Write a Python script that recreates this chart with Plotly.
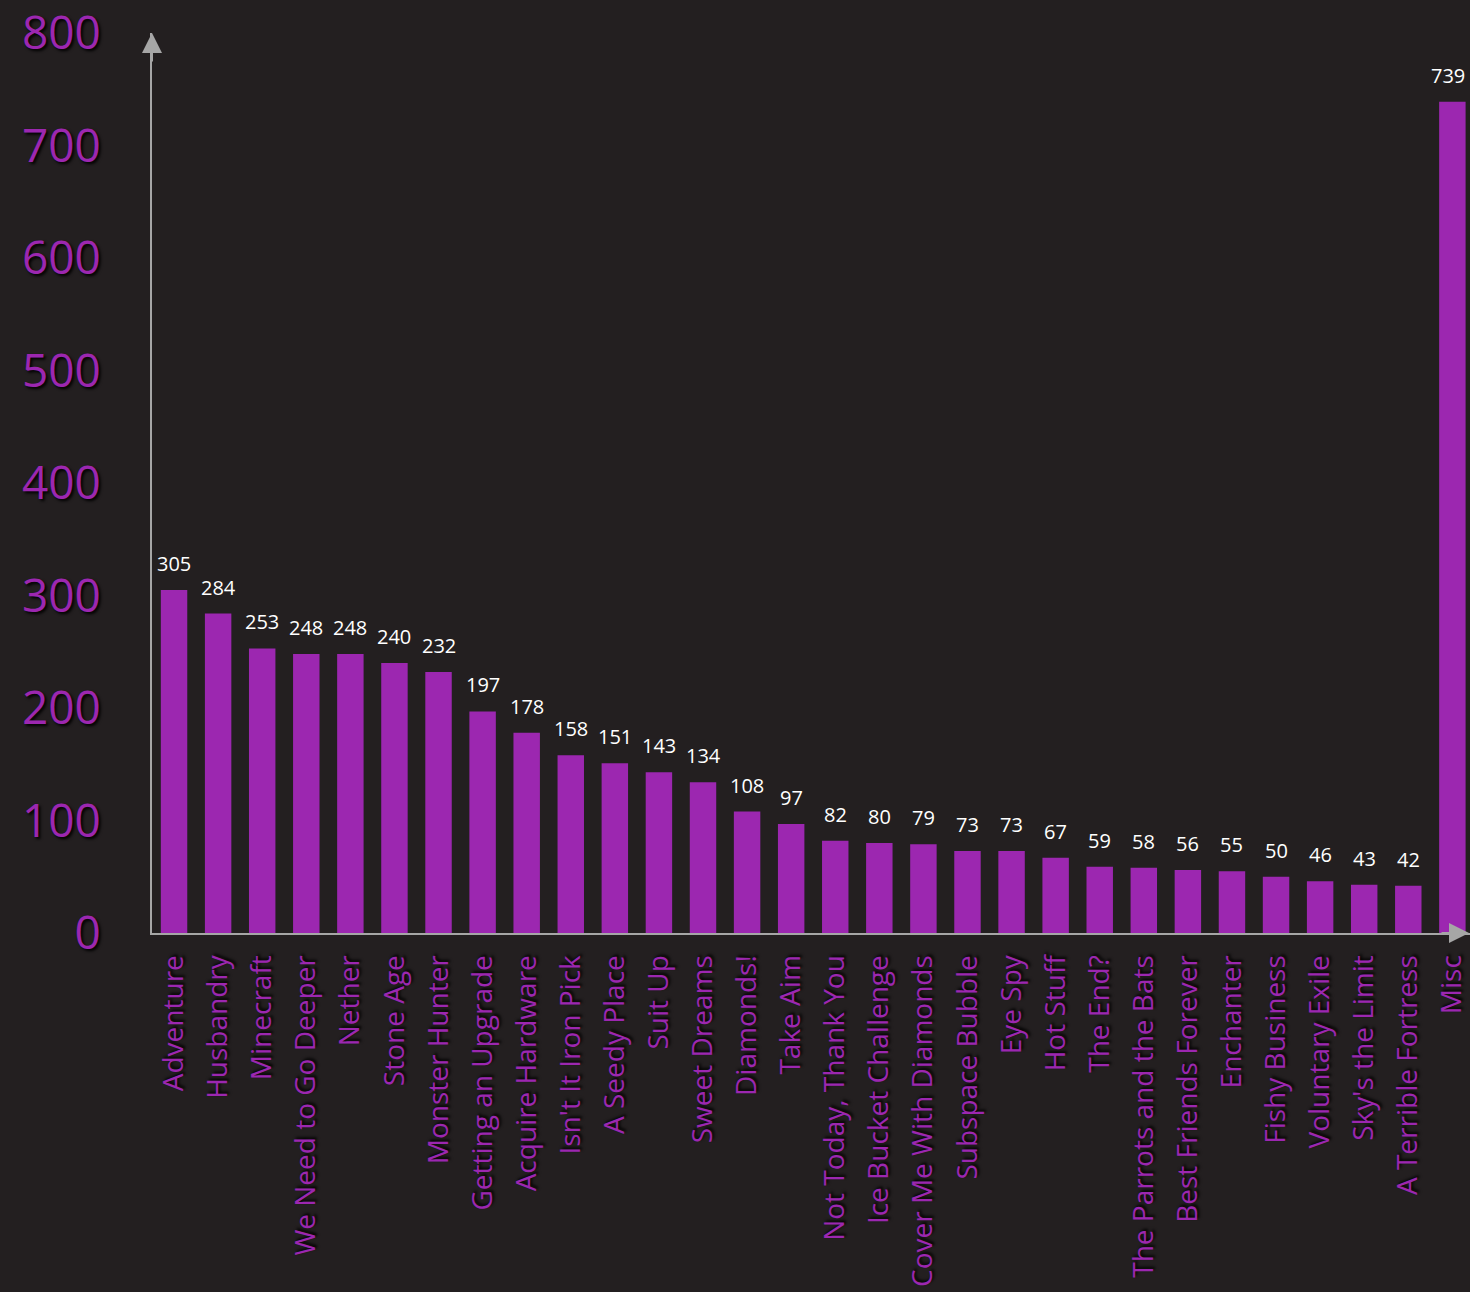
import plotly.graph_objects as go

categories = ["Adventure", "Husbandry", "Minecraft", "We Need to Go Deeper", "Nether",
              "Stone Age", "Monster Hunter", "Getting an Upgrade", "Acquire Hardware",
              "Isn't It Iron Pick", "A Seedy Place", "Suit Up", "Sweet Dreams", "Diamonds!",
              "Take Aim", "Not Today, Thank You", "Ice Bucket Challenge",
              "Cover Me With Diamonds", "Subspace Bubble", "Eye Spy", "Hot Stuff", "The End?",
              "The Parrots and the Bats", "Best Friends Forever", "Enchanter", "Fishy Business",
              "Voluntary Exile", "Sky's the Limit", "A Terrible Fortress", "Misc"]
values = [305, 284, 253, 248, 248, 240, 232, 197, 178, 158, 151, 143, 134, 108, 97, 82, 80,
          79, 73, 73, 67, 59, 58, 56, 55, 50, 46, 43, 42, 739]
y_ticks = [0, 100, 200, 300, 400, 500, 600, 700, 800]

BG = "#231f20"
PURPLE = "#9c27b0"
AXIS = "#a6a6a6"
FONT = "Open Sans"
SHADOW = "2px 2px 3px #000000"

fig = go.Figure()
fig.add_trace(go.Bar(
    x=categories, y=values, marker=dict(color=PURPLE, line=dict(width=0)),
    hoverinfo="x+y",
))

annotations = []
for i, (c, v) in enumerate(zip(categories, values)):
    last = i == len(categories) - 1
    annotations.append(dict(
        x=c, y=v, xref="x", yref="y", text=str(v), showarrow=False,
        yanchor="bottom", yshift=11, xanchor="center", xshift=-4 if last else 0,
        font=dict(family=FONT, size=20, color="#ffffff"),
    ))
# axis arrows
annotations.append(dict(x=0, y=1, xref="paper", yref="paper", ax=0, ay=30,
                        axref="pixel", ayref="pixel", text="", showarrow=True,
                        arrowhead=2, arrowsize=2, arrowwidth=2, arrowcolor=AXIS))
annotations.append(dict(x=1, y=0, xref="paper", yref="paper", ax=-30, ay=0,
                        axref="pixel", ayref="pixel", text="", showarrow=True,
                        arrowhead=2, arrowsize=2, arrowwidth=2, arrowcolor=AXIS))

fig.update_layout(
    width=1470, height=1292,
    paper_bgcolor=BG, plot_bgcolor=BG,
    margin=dict(l=152, r=0, t=31, b=359),
    bargap=0.4,
    showlegend=False,
    annotations=annotations,
    xaxis=dict(
        range=[-0.5, 29.4], showgrid=False, zeroline=False,
        showline=True, linecolor=AXIS, linewidth=2,
        tickangle=-90, ticks="", ticklabelstandoff=9,
        tickfont=dict(family=FONT, size=28, color=PURPLE, shadow=SHADOW),
    ),
    yaxis=dict(
        range=[0, 800.01], tickvals=y_ticks, showgrid=False, zeroline=False,
        showline=True, linecolor=AXIS, linewidth=2, ticks="",
        ticklabelstandoff=40, ticklabeloverflow="allow",
        tickfont=dict(family=FONT, size=46, color=PURPLE, shadow=SHADOW),
    ),
)

fig.write_html("out.html", config={"displayModeBar": False},
               post_script="document.body.style.margin='0';document.body.style.overflow='hidden';")
